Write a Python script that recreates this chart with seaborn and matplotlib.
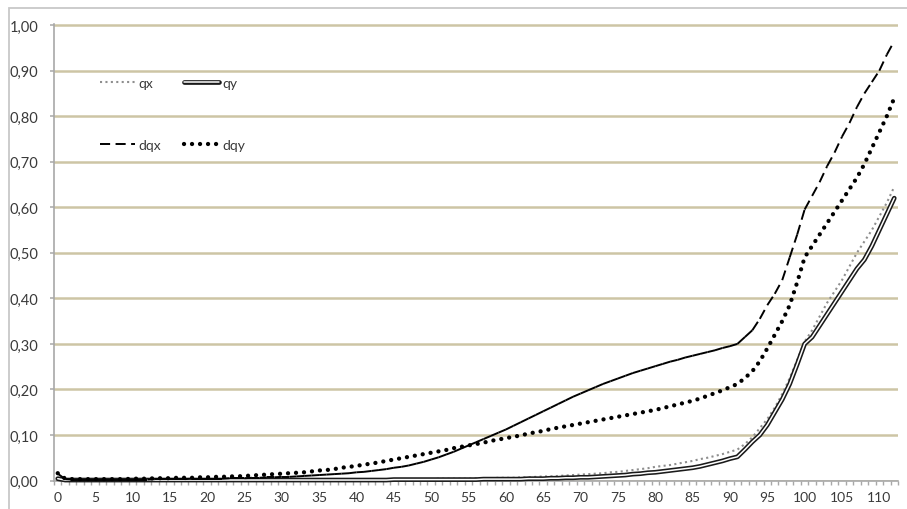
import numpy as np
import matplotlib
matplotlib.use("Agg")
import matplotlib.pyplot as plt
import matplotlib.patheffects as pe
from matplotlib.collections import LineCollection
from matplotlib.lines import Line2D
from matplotlib.patches import Rectangle
from matplotlib.transforms import IdentityTransform
import seaborn as sns

# ---- data: ages 0..112 ----
ages = list(range(0, 113))

qx = [0.004,
      0.001, 0.001, 0.001, 0.001, 0.001, 0.001, 0.001, 0.001, 0.001,
      0.001, 0.001, 0.001, 0.001, 0.001, 0.001, 0.001, 0.001, 0.001, 0.001,
      0.001, 0.001, 0.001, 0.001, 0.001, 0.001, 0.001, 0.001, 0.001, 0.001,
      0.001, 0.001, 0.001, 0.002, 0.002, 0.002, 0.002, 0.002, 0.002, 0.002,
      0.002, 0.002, 0.002, 0.002, 0.003, 0.003, 0.003, 0.003, 0.003, 0.003,
      0.003, 0.004, 0.004, 0.004, 0.004, 0.004, 0.005, 0.005, 0.005, 0.006,
      0.006, 0.006, 0.007, 0.007, 0.008, 0.009, 0.009, 0.010, 0.011, 0.012,
      0.013, 0.014, 0.015, 0.016, 0.018, 0.019, 0.021, 0.023, 0.025, 0.027,
      0.030, 0.032, 0.034, 0.037, 0.040, 0.043, 0.047, 0.050, 0.054, 0.058,
      0.063, 0.068, 0.080, 0.095, 0.115, 0.135, 0.160, 0.190, 0.225, 0.265,
      0.305, 0.330, 0.360, 0.390, 0.415, 0.440, 0.470, 0.500, 0.525, 0.550,
      0.580, 0.610, 0.645]

qy = [0.004,
      0.001, 0.001, 0.001, 0.001, 0.001, 0.001, 0.001, 0.001, 0.001,
      0.001, 0.001, 0.001, 0.001, 0.001, 0.001, 0.001, 0.001, 0.001, 0.001,
      0.001, 0.001, 0.001, 0.001, 0.001, 0.001, 0.001, 0.001, 0.001, 0.001,
      0.001, 0.001, 0.001, 0.001, 0.001, 0.001, 0.001, 0.001, 0.001, 0.001,
      0.001, 0.001, 0.001, 0.001, 0.001, 0.002, 0.002, 0.002, 0.002, 0.002,
      0.002, 0.002, 0.002, 0.002, 0.002, 0.002, 0.002, 0.003, 0.003, 0.003,
      0.003, 0.003, 0.003, 0.004, 0.004, 0.004, 0.005, 0.005, 0.006, 0.006,
      0.007, 0.007, 0.008, 0.009, 0.010, 0.011, 0.012, 0.014, 0.015, 0.017,
      0.018, 0.020, 0.022, 0.024, 0.026, 0.028, 0.031, 0.035, 0.039, 0.043,
      0.048, 0.052, 0.068, 0.085, 0.100, 0.122, 0.150, 0.178, 0.212, 0.255,
      0.300, 0.315, 0.340, 0.365, 0.390, 0.415, 0.440, 0.465, 0.485, 0.515,
      0.550, 0.585, 0.620]

dqx = [0.015,
       0.003, 0.002, 0.002, 0.002, 0.002, 0.002, 0.002, 0.002, 0.002,
       0.002, 0.002, 0.002, 0.003, 0.003, 0.003, 0.003, 0.003, 0.004, 0.004,
       0.004, 0.004, 0.004, 0.005, 0.005, 0.005, 0.006, 0.006, 0.007, 0.007,
       0.008, 0.008, 0.009, 0.010, 0.011, 0.012, 0.013, 0.014, 0.015, 0.016,
       0.018, 0.019, 0.021, 0.023, 0.025, 0.028, 0.030, 0.033, 0.037, 0.041,
       0.046, 0.051, 0.057, 0.063, 0.070, 0.077, 0.084, 0.091, 0.098, 0.105,
       0.112, 0.120, 0.128, 0.136, 0.144, 0.152, 0.160, 0.168, 0.176, 0.184,
       0.191, 0.198, 0.205, 0.212, 0.218, 0.224, 0.230, 0.236, 0.241, 0.246,
       0.251, 0.256, 0.261, 0.265, 0.270, 0.274, 0.278, 0.282, 0.286, 0.291,
       0.295, 0.300, 0.315, 0.330, 0.355, 0.385, 0.410, 0.440, 0.490, 0.540,
       0.595, 0.625, 0.655, 0.690, 0.720, 0.755, 0.785, 0.820, 0.850, 0.875,
       0.900, 0.935, 0.965]

dqy = [0.016,
       0.004, 0.003, 0.003, 0.003, 0.003, 0.003, 0.003, 0.003, 0.003,
       0.004, 0.004, 0.004, 0.005, 0.005, 0.005, 0.006, 0.006, 0.006, 0.007,
       0.007, 0.008, 0.008, 0.009, 0.009, 0.010, 0.011, 0.012, 0.013, 0.014,
       0.015, 0.016, 0.017, 0.018, 0.020, 0.022, 0.023, 0.025, 0.028, 0.030,
       0.032, 0.035, 0.037, 0.040, 0.043, 0.046, 0.049, 0.052, 0.055, 0.058,
       0.061, 0.064, 0.067, 0.071, 0.074, 0.077, 0.080, 0.083, 0.087, 0.090,
       0.093, 0.096, 0.099, 0.103, 0.106, 0.109, 0.113, 0.116, 0.119, 0.122,
       0.125, 0.128, 0.131, 0.134, 0.137, 0.140, 0.143, 0.146, 0.149, 0.152,
       0.155, 0.159, 0.163, 0.167, 0.171, 0.175, 0.180, 0.186, 0.192, 0.198,
       0.205, 0.212, 0.225, 0.240, 0.262, 0.290, 0.320, 0.350, 0.385, 0.435,
       0.490, 0.515, 0.540, 0.565, 0.590, 0.615, 0.640, 0.665, 0.695, 0.730,
       0.765, 0.800, 0.840]

y_ticks = [0.0, 0.1, 0.2, 0.3, 0.4, 0.5, 0.6, 0.7, 0.8, 0.9, 1.0]
x_label_ticks = list(range(0, 111, 5))
series_names = ["qx", "qy", "dqx", "dqy"]

# ---- style ----
sns.set_theme(style="white")
plt.rcParams["font.family"] = ["Lato", "DejaVu Sans"]
TEXT = "#3a3a3a"
AXIS = "#a8a8a8"
GRID = "#cdc5a5"

W, H = 907, 510
fig = plt.figure(figsize=(W / 100, H / 100), dpi=100)
fig.patch.set_facecolor("white")
ax = fig.add_axes([54 / W, 1 - 481.5 / H, (898 - 54) / W, (481.5 - 25) / H])
ax.set_facecolor("white")

# outer chart frame
fig.add_artist(Rectangle((8.5, -10), 1000, H - 8.5 + 10, transform=IdentityTransform(),
                         fill=False, edgecolor="#c8c8c8", lw=1.3))

# qx : grey square dots
qx_style = dict(color="#8e8e8e", lw=1.5, linestyle=(0, (1.0, 1.6)))
sns.lineplot(x=ages, y=qx, ax=ax, estimator=None, clip_on=False, zorder=3, **qx_style)

# qy : double line (dark outline, white core)
qy_fx = [pe.Stroke(linewidth=3.4, foreground="#1a1a1a"), pe.Normal()]
sns.lineplot(x=ages, y=qy, ax=ax, estimator=None, color="white", lw=1.1,
             path_effects=qy_fx, clip_on=False, zorder=4)

# dqx : dashed, the dash pattern restarting on each segment
pts = np.column_stack([ages, dqx])
segs = np.stack([pts[:-1], pts[1:]], axis=1)
dqx_style = dict(color="black", lw=1.4, linestyle=(0, (5.2, 2.8)))
ax.add_collection(LineCollection(segs, colors="black", linewidths=1.4,
                                 linestyles=[(0, (5.2, 2.8))], zorder=5,
                                 clip_on=False, capstyle="butt"))

# dqy : heavy round dots
dqy_style = dict(color="black", lw=3.1, linestyle=(0, (0.01, 1.85)),
                 dash_capstyle="round")
sns.lineplot(x=ages, y=dqy, ax=ax, estimator=None, clip_on=False, zorder=6, **dqy_style)

# ---- axes ----
ax.set_xlim(-0.5, len(ages) - 0.5)
ax.set_ylim(0, 1.0025)
ax.set_yticks(y_ticks)
ax.set_yticklabels([f"{v:.2f}".replace(".", ",") for v in y_ticks])
ax.set_xticks(x_label_ticks)
ax.set_xticklabels([str(v) for v in x_label_ticks])
ax.set_xticks(np.arange(-0.5, len(ages), 1), minor=True)
ax.set_xlabel("")
ax.set_ylabel("")

ax.yaxis.grid(True, color=GRID, lw=1.8, zorder=0)
ax.xaxis.grid(False)
ax.set_axisbelow(True)
for side in ("top", "right"):
    ax.spines[side].set_visible(False)
for side in ("left", "bottom"):
    ax.spines[side].set_color(AXIS)
    ax.spines[side].set_linewidth(1.2)
    ax.spines[side].set_zorder(2)

ax.tick_params(axis="y", which="major", direction="out", length=3.2, width=1.1,
               color=AXIS, pad=8, labelsize=10.5, labelcolor=TEXT, left=True)
ax.tick_params(axis="x", which="major", length=0, pad=7.5, labelsize=10,
               labelcolor=TEXT, bottom=True)
ax.tick_params(axis="x", which="minor", direction="out", length=3, width=1.0,
               color=AXIS, bottom=True)

# ---- legend ----
h_qx = Line2D([], [], **qx_style)
h_qy = Line2D([], [], color="white", lw=1.1, path_effects=qy_fx)
h_dqx = Line2D([], [], **dqx_style)
h_dqy = Line2D([], [], **dqy_style)
leg = ax.legend(handles=[h_qx, h_dqx, h_qy, h_dqy],
                labels=[series_names[0], series_names[2], series_names[1], series_names[3]],
                ncol=2, loc="upper left", bbox_to_anchor=(100 / W, 1 - 78 / H),
                bbox_transform=fig.transFigure, frameon=False, fontsize=10,
                handlelength=2.5, handletextpad=0.25, columnspacing=1.7,
                labelspacing=3.6, borderpad=0, borderaxespad=0)
for t in leg.get_texts():
    t.set_color(TEXT)

fig.savefig("out.png", dpi=100, facecolor="white")
